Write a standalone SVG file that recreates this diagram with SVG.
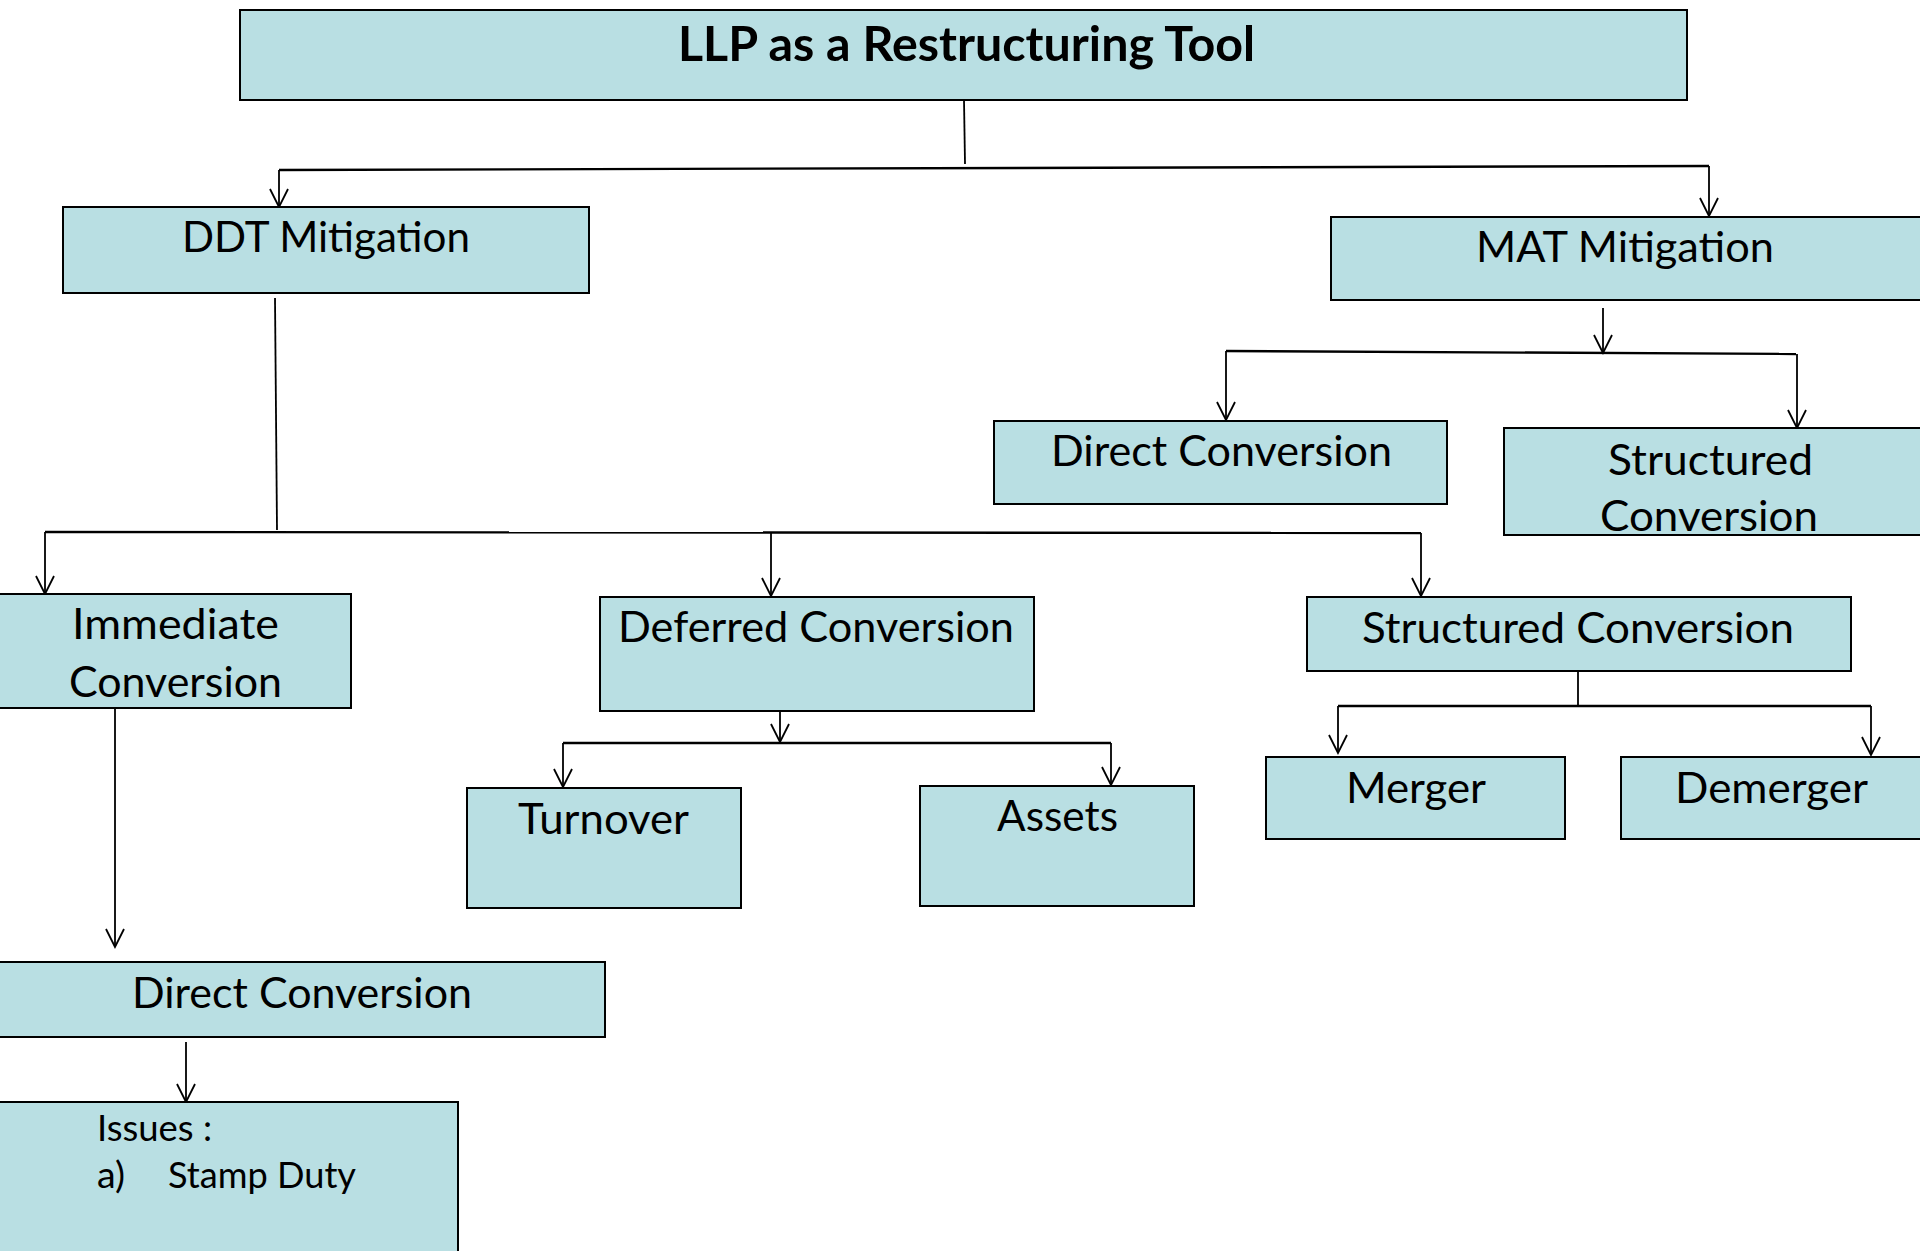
<svg xmlns="http://www.w3.org/2000/svg" width="1920" height="1251" viewBox="0 0 1920 1251">
  <defs>
    <style>
      .box { fill: #B9DFE3; stroke: #000; stroke-width: 2; }
      .lbl { font-family: Lato, "Open Sans", "Liberation Sans", sans-serif; font-size: 43px; fill: #000; }
      .title { font-family: Lato, "Open Sans", "Liberation Sans", sans-serif; font-size: 48px; font-weight: bold; fill: #000; }
      .small { font-family: Lato, "Open Sans", "Liberation Sans", sans-serif; font-size: 37px; fill: #000; }
      .wire { fill: none; stroke: #000; stroke-width: 1.8; }
      .bus { fill: none; stroke: #000; stroke-width: 2.4; }
      .arrow { fill: none; stroke: #000; stroke-width: 1.8; marker-end: url(#vhead); }
    </style>
    <marker id="vhead" markerUnits="userSpaceOnUse" viewBox="-20 -12 24 24" markerWidth="24" markerHeight="24" refX="0" refY="0" orient="auto" overflow="visible">
      <path d="M -18 -9 L 0 0 L -18 9" fill="none" stroke="#000" stroke-width="1.8"/>
    </marker>
  </defs>

  <rect width="1920" height="1251" fill="#fff"/>

  <!-- connectors -->
  <g id="connectors">
    <!-- root to first level -->
    <path class="wire" d="M 964 100 L 965 164"/>
    <path class="bus" d="M 279 170 L 1709 166"/>
    <path class="arrow" d="M 279 170 L 279 207"/>
    <path class="arrow" d="M 1709 166 L 1709 216"/>

    <!-- DDT branch -->
    <path class="wire" d="M 275 298 L 277 530"/>
    <path class="bus" d="M 45 532 L 1421 533"/>
    <path class="arrow" d="M 45 532 L 45 594"/>
    <path class="arrow" d="M 771 533 L 771 596"/>
    <path class="arrow" d="M 1421 533 L 1421 596"/>

    <!-- MAT branch -->
    <path class="arrow" d="M 1603 308 L 1603 353"/>
    <path class="bus" d="M 1226 351 L 1796 354"/>
    <path class="arrow" d="M 1226 351 L 1226 420"/>
    <path class="arrow" d="M 1797 354 L 1797 428"/>

    <!-- immediate conversion down to direct conversion -->
    <path class="arrow" d="M 115 709 L 115 947"/>

    <!-- deferred conversion -->
    <path class="arrow" d="M 780 710 L 780 742"/>
    <path class="bus" d="M 563 743 L 1111 743"/>
    <path class="arrow" d="M 563 743 L 563 787"/>
    <path class="arrow" d="M 1111 743 L 1111 785"/>

    <!-- structured conversion -->
    <path class="wire" d="M 1578 671 L 1578 705"/>
    <path class="bus" d="M 1338 706 L 1871 706"/>
    <path class="arrow" d="M 1338 706 L 1338 753"/>
    <path class="arrow" d="M 1871 706 L 1871 755"/>

    <!-- direct conversion to issues -->
    <path class="arrow" d="M 186 1042 L 186 1102"/>
  </g>

  <g id="root">
    <rect class="box" x="240" y="10" width="1447" height="90"/>
    <text class="title" x="678" y="61" textLength="577" lengthAdjust="spacingAndGlyphs">LLP as a Restructuring Tool</text>
  </g>

  <g id="ddt-mitigation">
    <rect class="box" x="63" y="207" width="526" height="86"/>
    <text class="lbl" x="182" y="252" textLength="288" lengthAdjust="spacingAndGlyphs">DDT Mitigation</text>
  </g>

  <g id="mat-mitigation">
    <rect class="box" x="1331" y="217" width="590" height="83"/>
    <text class="lbl" x="1476" y="262" textLength="298" lengthAdjust="spacingAndGlyphs">MAT Mitigation</text>
  </g>

  <g id="mat-direct-conversion">
    <rect class="box" x="994" y="421" width="453" height="83"/>
    <text class="lbl" x="1051" y="466" textLength="341" lengthAdjust="spacingAndGlyphs">Direct Conversion</text>
  </g>

  <g id="mat-structured-conversion">
    <rect class="box" x="1504" y="428" width="417" height="107"/>
    <text class="lbl" x="1608" y="475" textLength="205" lengthAdjust="spacingAndGlyphs">Structured</text>
    <text class="lbl" x="1600" y="531" textLength="218" lengthAdjust="spacingAndGlyphs">Conversion</text>
  </g>

  <g id="immediate-conversion">
    <rect class="box" x="-2" y="594" width="353" height="114"/>
    <text class="lbl" x="72" y="639" textLength="207" lengthAdjust="spacingAndGlyphs">Immediate</text>
    <text class="lbl" x="69" y="697" textLength="213" lengthAdjust="spacingAndGlyphs">Conversion</text>
  </g>

  <g id="deferred-conversion">
    <rect class="box" x="600" y="597" width="434" height="114"/>
    <text class="lbl" x="618" y="642" textLength="396" lengthAdjust="spacingAndGlyphs">Deferred Conversion</text>
  </g>

  <g id="ddt-structured-conversion">
    <rect class="box" x="1307" y="597" width="544" height="74"/>
    <text class="lbl" x="1362" y="643" textLength="432" lengthAdjust="spacingAndGlyphs">Structured Conversion</text>
  </g>

  <g id="turnover">
    <rect class="box" x="467" y="788" width="274" height="120"/>
    <text class="lbl" x="518" y="834" textLength="171" lengthAdjust="spacingAndGlyphs">Turnover</text>
  </g>

  <g id="assets">
    <rect class="box" x="920" y="786" width="274" height="120"/>
    <text class="lbl" x="997" y="831" textLength="121" lengthAdjust="spacingAndGlyphs">Assets</text>
  </g>

  <g id="merger">
    <rect class="box" x="1266" y="757" width="299" height="82"/>
    <text class="lbl" x="1346" y="803" textLength="140" lengthAdjust="spacingAndGlyphs">Merger</text>
  </g>

  <g id="demerger">
    <rect class="box" x="1621" y="757" width="300" height="82"/>
    <text class="lbl" x="1675" y="803" textLength="193" lengthAdjust="spacingAndGlyphs">Demerger</text>
  </g>

  <g id="ddt-direct-conversion">
    <rect class="box" x="-2" y="962" width="607" height="75"/>
    <text class="lbl" x="132" y="1008" textLength="340" lengthAdjust="spacingAndGlyphs">Direct Conversion</text>
  </g>

  <g id="issues">
    <rect class="box" x="-2" y="1102" width="460" height="152"/>
    <text class="small" x="97" y="1141" textLength="115" lengthAdjust="spacingAndGlyphs">Issues :</text>
    <text class="small" x="97" y="1188" textLength="28" lengthAdjust="spacingAndGlyphs">a)</text>
    <text class="small" x="168" y="1188" textLength="188" lengthAdjust="spacingAndGlyphs">Stamp Duty</text>
  </g>
</svg>
